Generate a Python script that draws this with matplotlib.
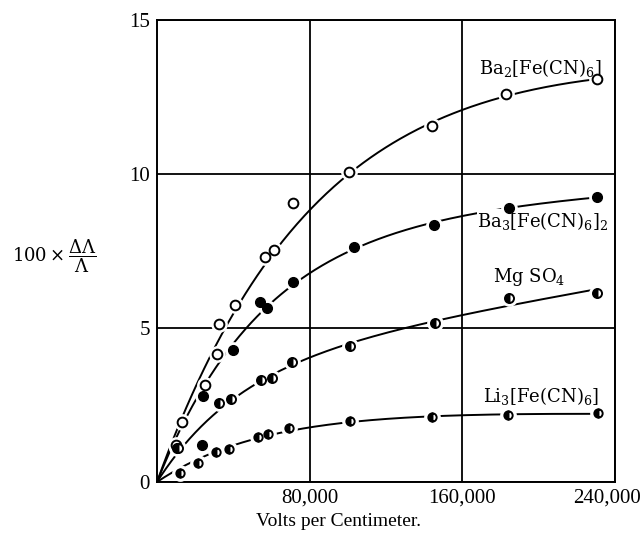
import numpy as np
import matplotlib.pyplot as plt
from matplotlib.transforms import ScaledTranslation

plt.rcParams['font.family'] = 'Liberation Serif'
plt.rcParams['mathtext.fontset'] = 'dejavuserif'

# Volts per centimeter / 100*dL/L
ba2_x = [10000, 13300, 25200, 31300, 32500, 40900, 56800, 61300, 100600, 144300, 182900, 230400]
ba2_y = [1.20, 1.94, 3.15, 4.15, 5.13, 5.75, 7.31, 7.53, 10.07, 11.56, 12.59, 13.08]
ba2_out_x = [71400]
ba2_out_y = [9.05]

ba3_x = [10300, 24300, 39700, 54000, 57800, 71100, 103100, 145200, 184600, 230700]
ba3_y = [1.10, 2.80, 4.29, 5.85, 5.64, 6.50, 7.63, 8.34, 8.91, 9.26]
ba3_out_x = [23400]
ba3_out_y = [1.20]

mg_x = [11200, 32500, 38600, 54500, 60300, 70900, 101100, 145700, 184500, 230700]
mg_y = [1.10, 2.58, 2.68, 3.31, 3.37, 3.91, 4.42, 5.16, 5.96, 6.15]

li_x = [12000, 21300, 30800, 37900, 52800, 58300, 69300, 101100, 143900, 184100, 231300]
li_y = [0.28, 0.63, 0.98, 1.06, 1.45, 1.56, 1.74, 1.98, 2.10, 2.18, 2.23]

labels = [r'Ba$_2$[Fe(CN)$_6$]', r'Ba$_3$[Fe(CN)$_6$]$_2$', r'Mg SO$_4$', r'Li$_3$[Fe(CN)$_6$]']
label_pos = [(201000, 13.45), (202000, 8.48), (195000, 6.65), (201000, 2.8)]


def curve(x, y, xs):
    # saturating fit through the origin: a*(1-exp(-x/b)) + c*x
    x = np.array(x, dtype=float)
    y = np.array(y)
    w = np.where(x > 90000, 3.0, 1.0)  # the high-field points fix the shape of the tail
    best = None
    for b in np.linspace(10000, 300000, 300):
        A = np.vstack([1 - np.exp(-x / b), x]).T
        c = np.linalg.lstsq(A * w[:, None], y * w, rcond=None)[0]
        err = np.sum((w * (A @ c - y)) ** 2)
        if best is None or err < best[0]:
            best = (err, b, c)
    _, b, c = best
    return c[0] * (1 - np.exp(-xs / b)) + c[1] * xs


fig = plt.figure(figsize=(6.42, 5.42), dpi=100)
ax = fig.add_axes([0.2445, 0.1107, 0.7135, 0.8523])

xs = np.linspace(0, 231000, 300)
for x, y in [(ba2_x, ba2_y), (ba3_x, ba3_y), (mg_x, mg_y), (li_x, li_y)]:
    ax.plot(xs, curve(x, y, xs), color='black', lw=1.4, zorder=3)

# white halo so the line breaks at each point
allx = ba2_x + ba2_out_x + ba3_x + ba3_out_x + mg_x + li_x
ally = ba2_y + ba2_out_y + ba3_y + ba3_out_y + mg_y + li_y
ax.plot(allx, ally, 'o', ms=11, color='white', zorder=4)

ax.plot(ba2_x + ba2_out_x, ba2_y + ba2_out_y, 'o', ms=7, mfc='white', mec='black', mew=1.4, zorder=5)
ax.plot(ba3_x + ba3_out_x, ba3_y + ba3_out_y, 'o', ms=7, mfc='black', mec='black', zorder=5)
ax.plot(mg_x, mg_y, 'o', ms=6.5, fillstyle='left', mfc='black', mfcalt='white', mec='black', mew=1.4, zorder=5)
ax.plot(li_x, li_y, 'o', ms=6, fillstyle='left', mfc='black', mfcalt='white', mec='black', mew=1.4, zorder=5)

for lab, (lx, ly) in zip(labels, label_pos):
    ax.text(lx, ly, lab, ha='center', va='center', fontsize=13,
            family='DejaVu Serif', zorder=4.5,
            bbox=dict(facecolor='white', edgecolor='none', pad=0.2))

ax.set_xlim(0, 240000)
ax.set_ylim(0, 15)
ax.set_xticks([80000, 160000, 240000])
ax.set_xticklabels(['80,000', '160,000', '240,000'])
ax.set_yticks([0, 5, 10, 15])
ax.set_yticklabels(['0', '5', '10', '15'])
ax.tick_params(length=0, labelsize=15, pad=5)
ax.xaxis.get_ticklabels()[-1].set_transform(
    ax.xaxis.get_ticklabels()[-1].get_transform() + ScaledTranslation(-0.08, 0, fig.dpi_scale_trans))
ax.grid(True, color='black', lw=1.3)
for s in ax.spines.values():
    s.set_linewidth(1.4)

fig.text(0.527, 0.037, 'Volts per Centimeter.', fontsize=14, ha='center', va='center')
fig.text(0.018, 0.527, r'$100\times\dfrac{\Delta\Lambda}{\Lambda}$', fontsize=13, va='center')

fig.savefig('out.png', dpi=100)
